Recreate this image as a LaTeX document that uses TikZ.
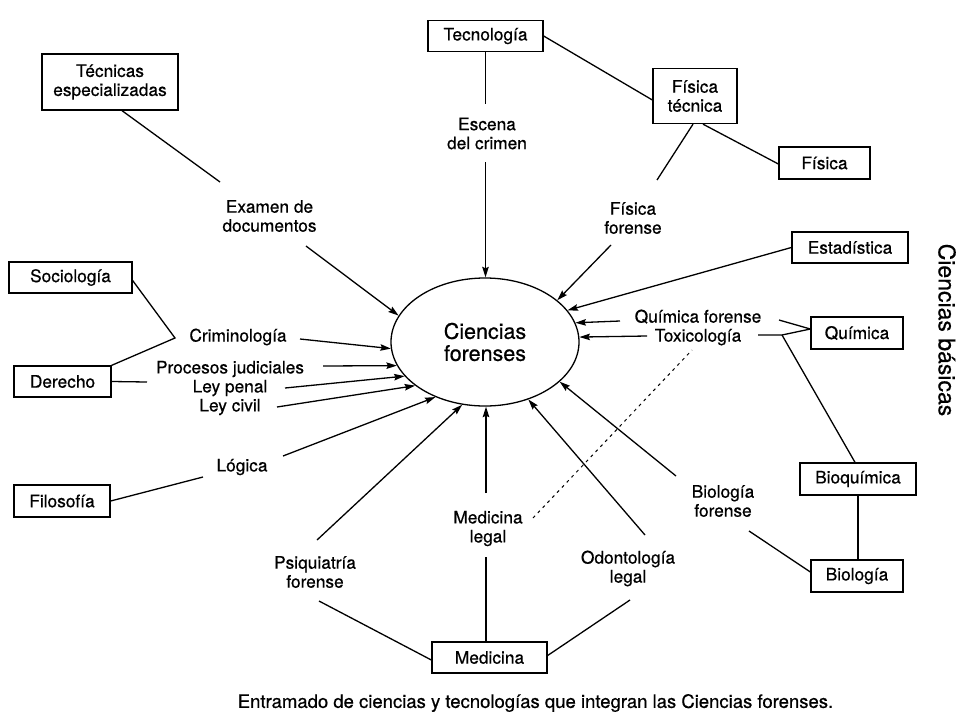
\documentclass[tikz,border=0pt]{standalone}
\usepackage{fontspec}
\setmainfont{TeX Gyre Heros}[FakeBold=0.6]
\usetikzlibrary{shapes.geometric,arrows.meta}
\begin{document}
\begin{tikzpicture}[x=1pt,y=-1pt,
  every node/.style={font=\fontsize{17.3}{19}\selectfont, align=center, inner sep=0pt},
  box/.style={draw, line width=1.3pt, inner sep=0pt},
  ln/.style={line width=1.3pt},
  arr/.style={line width=1.3pt, -{Stealth[length=10.5pt,width=6.5pt,inset=1.5pt]}},
  dotln/.style={line width=1pt, dash pattern=on 3pt off 4pt},
]
\fill[white] (0,0) rectangle (960,720);
\useasboundingbox (0,0) rectangle (960,720);

% boxes
\node[box, minimum width=136pt, minimum height=56pt] (tec) at (110,82) {Técnicas\\especializadas};
\node[box, minimum width=115pt, minimum height=31pt] (tecno) at (485.5,36) {Tecnología};
\node[box, minimum width=84pt, minimum height=55pt] (ft) at (695,96) {Física\\técnica};
\node[box, minimum width=91pt, minimum height=32pt] (fis) at (824.5,163) {Física};
\node[box, minimum width=116pt, minimum height=31pt] (est) at (850,247.5) {Estadística};
\node[box, minimum width=92pt, minimum height=32pt] (qui) at (857,333) {Química};
\node[box, minimum width=116pt, minimum height=32pt] (bioq) at (858,479) {Bioquímica};
\node[box, minimum width=92pt, minimum height=32pt] (bio) at (857,576) {Biología};
\node[box, minimum width=115pt, minimum height=31pt] (med) at (489.5,657.5) {Medicina};
\node[box, minimum width=123pt, minimum height=31pt] (soc) at (70.5,277.5) {Sociología};
\node[box, minimum width=97pt, minimum height=31pt] (der) at (62.5,381.5) {Derecho};
\node[box, minimum width=96pt, minimum height=32pt] (filo) at (62,501) {Filosofía};

% centre
\node[draw, ellipse, line width=1.3pt, minimum width=188pt, minimum height=128pt,
      font=\fontsize{21.5}{22}\selectfont] (cf) at (485,342) {Ciencias\\forenses};

% labels
\node (exa) at (269.5,216) {Examen de\\documentos};
\node (esc) at (487,133.5) {Escena\\del crimen};
\node (ff) at (633,218) {Física\\forense};
\node (qt) at (698,327.5) {Química forense\\Toxicología};
\node (bf) at (723,501) {Biología\\forense};
\node (ol) at (628,568.5) {Odontología\\legal};
\node (ml) at (488,528.5) {Medicina\\legal};
\node (pf) at (315,572) {Psiquiatría\\forense};
\node (log) at (242,467) {Lógica};
\node (cri) at (238,337) {Criminología};
\node (pj) at (230,388) {Procesos judiciales\\Ley penal\\Ley civil};
\node[font=\fontsize{18.5}{20}\selectfont] (cap) at (535.5,703) {Entramado de ciencias y tecnologías que integran las Ciencias forenses.};
\node[rotate=-90, font=\fontsize{23}{24}\selectfont] (cb) at (947,330) {Ciencias básicas};

% free ends
\coordinate (exaT) at (220,182);
\coordinate (exaB) at (306,246);
\coordinate (escT) at (485.5,104);
\coordinate (escB) at (485.5,162);
\coordinate (ffT) at (657,180);
\coordinate (ffB) at (611,245);
\coordinate (qfL) at (620,321);
\coordinate (qfR) at (779,320);
\coordinate (toxL) at (647,336);
\coordinate (toxR) at (758,335);
\coordinate (qj) at (782,335);
\coordinate (bfT) at (676,476);
\coordinate (bfB) at (749,531);
\coordinate (olT) at (645,535);
\coordinate (olB) at (630,600);
\coordinate (mlT) at (486,493);
\coordinate (mlB) at (486,557);
\coordinate (dotA) at (533,518);
\coordinate (dotB) at (692,350);
\coordinate (pfT) at (317,540);
\coordinate (pfB) at (319,601);
\coordinate (logR) at (283,456);
\coordinate (logL) at (203,477);
\coordinate (criR) at (300,339);
\coordinate (sj) at (175,338);
\coordinate (pjL) at (147,382);
\coordinate (pjR) at (323,366);
\coordinate (lpR) at (285,388);
\coordinate (lcR) at (277,407);

% connectors
\draw[ln] ([xshift=12pt]tec.south) -- (exaT);
\draw[arr] (exaB) -- (cf.163);
\draw[ln] (tecno.south) -- (escT);
\draw[arr] (escB) -- (escB |- cf.north);
\draw[ln] (tecno.east) -- ([yshift=-4pt]ft.west);
\draw[ln] ([xshift=-2pt]ft.south) -- (ffT);
\draw[arr] (ffB) -- (cf.30);
\draw[ln] ([xshift=8pt]ft.south) -- ([yshift=-1pt]fis.west);
\draw[arr] (est.west) -- (cf.21.6);
\draw[arr] (qfL) -- (cf.12.6);
\draw[arr] (toxL) -- (cf.3.5);
\draw[ln] (qfR) -- ([yshift=4pt]qui.west);
\draw[ln] (toxR) -- (qj) -- ([yshift=4pt]qui.west);
\draw[ln] (qj) -- ([xshift=-3pt]bioq.north);
\draw[ln] (bioq.south) -- (bioq.south |- bio.north);
\draw[arr] (bfT) -- (cf.-28.6);
\draw[ln] (bfB) -- ([yshift=4pt]bio.west);
\draw[arr] (olT) -- (cf.-53.6);
\draw[ln] (olB) -- ([yshift=2pt]med.east);
\draw[arr] (mlT) -- (mlT |- cf.south);
\draw[ln] (mlB) -- (mlB |- med.north);
\draw[dotln] (dotA) -- (dotB);
\draw[arr] (pfT) -- (cf.-110.7);
\draw[ln] (pfB) -- ([yshift=-2.5pt]med.west);
\draw[arr] (logR) -- (cf.-132.4);
\draw[ln] (filo.east) -- (logL);
\draw[arr] (criR) -- (cf.-176.9);
\draw[ln] ([yshift=-3pt]soc.east) -- (sj) -- (der.north east);
\draw[ln] (der.east) -- (pjL);
\draw[arr] (pjR) -- (cf.-165);
\draw[arr] (lpR) -- (cf.-157.1);
\draw[arr] (lcR) -- (cf.-148);
\end{tikzpicture}
\end{document}
